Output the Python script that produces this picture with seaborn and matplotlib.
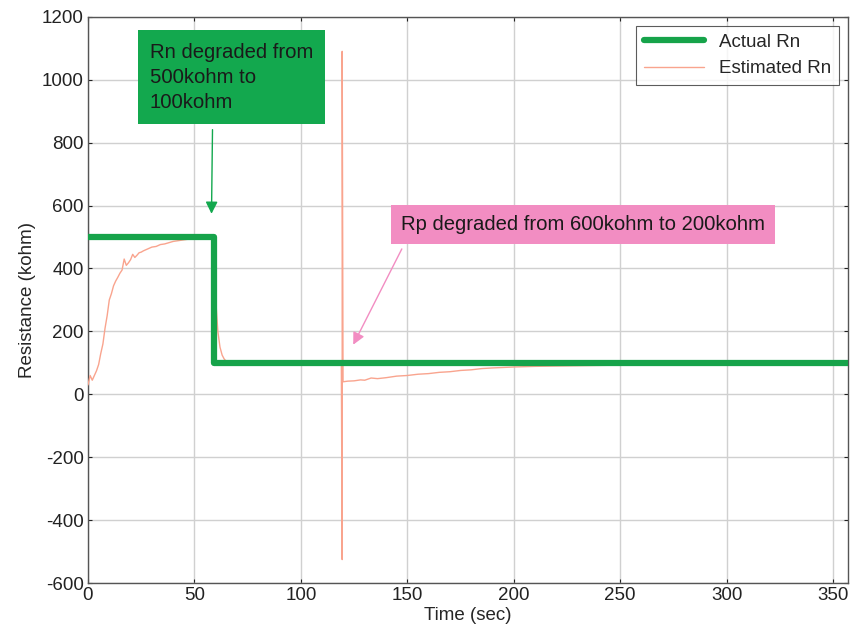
import matplotlib; matplotlib.use('Agg')
import numpy as np
import pandas as pd
import seaborn as sns
import matplotlib.pyplot as plt

# actual resistance (step change near t=59)
actual_t = [0, 59, 59, 360]
actual_r = [500, 500, 100, 100]

# estimated resistance
est_t = [0, 1, 2, 3, 4, 5, 6, 7, 8, 9, 10, 11, 12, 13, 14, 15, 16, 17, 18, 19,
         20, 21, 22, 23, 24, 25, 26, 28, 30, 32, 34, 36, 38, 40, 42, 44, 46,
         48, 50, 52, 55, 58, 59, 60, 61, 62, 63, 64, 65, 67, 69, 80, 90, 100,
         110, 119, 119.4, 119.4, 119.8, 122, 125, 128, 130, 133, 136, 140, 145,
         150, 155, 160, 165, 170, 175, 180, 185, 190, 200, 210, 220, 230, 240,
         250, 260, 270, 280, 290, 300, 320, 340, 360]
est_r = [30, 60, 45, 60, 75, 95, 130, 160, 210, 250, 300, 320, 345, 360, 372,
         385, 395, 430, 410, 418, 428, 445, 435, 442, 450, 452, 456, 462, 468,
         470, 476, 478, 482, 486, 488, 490, 492, 494, 495, 497, 498, 499, 500,
         300, 200, 150, 125, 112, 105, 101, 98, 98, 98, 98, 98, 98, -525,
         1090, 40, 42, 43, 46, 45, 52, 50, 53, 58, 60, 64, 66, 70, 72, 76, 78,
         82, 84, 87, 89, 90, 91, 92, 93, 94, 95, 96, 96, 97, 97, 97, 97]

actual_df = pd.DataFrame({'t': actual_t, 'r': actual_r})
est_df = pd.DataFrame({'t': est_t, 'r': est_r})

sns.set_style('whitegrid')
plt.rcParams['font.family'] = ['Liberation Sans', 'DejaVu Sans']
plt.rcParams['axes.unicode_minus'] = False

fig = plt.figure(figsize=(8.51, 6.43), dpi=100)
ax = fig.add_axes([0.1034, 0.093, 0.8931, 0.881])

sns.lineplot(data=actual_df, x='t', y='r', ax=ax, color='#16A34A',
             linewidth=4.5, label='Actual Rn', sort=False, estimator=None,
             zorder=4)
sns.lineplot(data=est_df, x='t', y='r', ax=ax, color='#F9A48E', linewidth=1,
             label='Estimated Rn', sort=False, estimator=None, zorder=3)

ax.set_xlim(0, 357)
ax.set_ylim(-600, 1200)
ax.set_xticks(np.arange(0, 351, 50))
ax.set_yticks(np.arange(-600, 1201, 200))
ax.set_xlabel('Time (sec)', fontsize=13.5, labelpad=2)
ax.set_ylabel('Resistance (kohm)', fontsize=13.5, labelpad=4)
ax.tick_params(labelsize=13.5, direction='in', length=3, colors='#222222',
               bottom=True, left=True, top=True, right=True, pad=3)
ax.grid(True, color='#d0d0d0', lw=1)
for s in ax.spines.values():
    s.set_color('#555555')
    s.set_linewidth(1)

leg = ax.legend(loc='upper right', fontsize=13.5, fancybox=False, frameon=True,
                handlelength=3.2, borderaxespad=0.5)
leg.get_frame().set_edgecolor('#333333')
leg.get_frame().set_linewidth(0.8)

# annotations
ax.text(29, 1118, 'Rn degraded from\n500kohm to\n100kohm', fontsize=14.6,
        color='#1a1a1a', va='top', ha='left', linespacing=1.42,
        bbox=dict(boxstyle='square,pad=0.6', fc='#13A84E', ec='none'))
ax.annotate('', xy=(58, 565), xytext=(58.5, 850),
            arrowprops=dict(arrowstyle='-|>', color='#13A84E', lw=1,
                            mutation_scale=18))

ax.text(147, 540, 'Rp degraded from 600kohm to 200kohm', fontsize=14.6,
        color='#1a1a1a', va='center', ha='left',
        bbox=dict(boxstyle='square,pad=0.5', fc='#F28DC2', ec='none'))
ax.annotate('', xy=(124, 150), xytext=(148, 470),
            arrowprops=dict(arrowstyle='-|>', color='#F28DC2', lw=1,
                            mutation_scale=18))

plt.savefig('out.png', dpi=100)
